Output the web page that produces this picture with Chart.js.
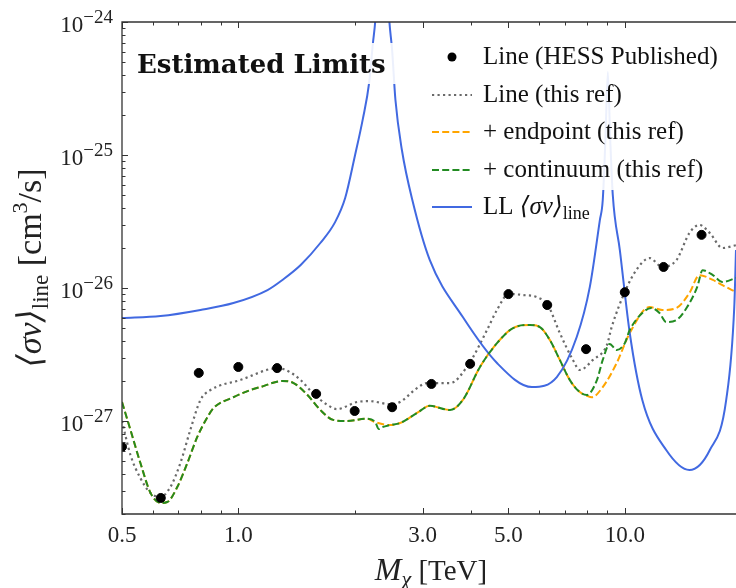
<!DOCTYPE html>
<html>
<head>
<meta charset="utf-8">
<script src="https://cdn.jsdelivr.net/npm/chart.js@4.4.1/dist/chart.umd.min.js"></script>
<style>
  body { margin: 0; background: #fff; }
  canvas { display: block; }
</style>
</head>
<body>
<canvas id="limitChart" width="736" height="588"></canvas>
<script>
// HESS published line limits
const hessMass = [0.5, 0.63, 0.79, 1.0, 1.26, 1.59, 2.0, 2.5, 3.16, 3.98, 5.0, 6.3, 7.94, 10.0, 12.6, 15.8];
const hessSigmaV = [6.4e-28, 2.64e-28, 2.30e-27, 2.55e-27, 2.50e-27, 1.60e-27, 1.19e-27, 1.27e-27, 1.90e-27, 2.69e-27, 9.0e-27, 7.45e-27, 3.47e-27, 9.3e-27, 1.44e-26, 2.51e-26];

// line only (this ref)
const lineMass = [0.5, 0.526, 0.558, 0.593, 0.629, 0.667, 0.708, 0.751, 0.798, 0.847, 1.01, 1.27, 1.36, 1.45, 1.56, 1.70, 1.80, 2.03, 2.19, 2.47, 2.62, 2.90, 3.08, 3.53, 3.95, 4.40, 4.67, 5.01, 5.45, 5.92, 6.32, 6.79, 7.34, 7.65, 8.27, 8.99, 9.25, 10.0, 10.7, 11.6, 12.5, 13.6, 14.7, 15.6, 16.6, 17.9, 19.4];
const lineSigmaV = [1.0e-27, 5.54e-28, 3.72e-28, 2.87e-28, 2.69e-28, 3.19e-28, 4.83e-28, 8.55e-28, 1.44e-27, 1.71e-27, 2.03e-27, 2.50e-27, 2.33e-27, 2.03e-27, 1.62e-27, 1.32e-27, 1.23e-27, 1.39e-27, 1.41e-27, 1.34e-27, 1.39e-27, 1.77e-27, 1.93e-27, 1.93e-27, 2.69e-27, 4.83e-27, 6.84e-27, 9.02e-27, 8.86e-27, 8.55e-27, 7.45e-27, 4.59e-27, 2.88e-27, 2.42e-27, 2.88e-27, 3.73e-27, 5.09e-27, 9.33e-27, 1.36e-26, 1.68e-26, 1.44e-26, 1.62e-26, 2.59e-26, 2.98e-26, 2.59e-26, 2.00e-26, 2.10e-26];

// + endpoint
const endpointMass = [0.5, 0.526, 0.558, 0.593, 0.629, 0.655, 0.695, 0.738, 0.783, 0.832, 0.862, 0.971, 1.074, 1.14, 1.30, 1.39, 1.51, 1.63, 1.76, 1.91, 2.15, 2.26, 2.47, 2.62, 2.90, 3.13, 3.53, 3.81, 4.22, 4.67, 5.14, 5.68, 6.03, 6.40, 6.79, 7.21, 7.65, 7.98, 8.22, 8.77, 9.53, 10.3, 11.6, 12.5, 13.6, 14.7, 15.6, 16.9, 17.9, 19.4];
const endpointSigmaV = [1.39e-27, 8.55e-28, 4.83e-28, 2.87e-28, 2.42e-28, 2.46e-28, 3.19e-28, 4.83e-28, 7.59e-28, 1.07e-27, 1.25e-27, 1.51e-27, 1.71e-27, 1.80e-27, 2.00e-27, 1.93e-27, 1.57e-27, 1.21e-27, 1.02e-27, 1.00e-27, 1.04e-27, 9.82e-28, 9.33e-28, 9.66e-28, 1.15e-27, 1.30e-27, 1.21e-27, 1.44e-27, 2.55e-27, 3.85e-27, 5.00e-27, 5.27e-27, 5.09e-27, 4.06e-27, 2.88e-27, 2.03e-27, 1.65e-27, 1.55e-27, 1.51e-27, 1.80e-27, 2.73e-27, 4.59e-27, 7.19e-27, 6.84e-27, 7.08e-27, 9.17e-27, 1.25e-26, 1.15e-26, 1.05e-26, 9.33e-27];

// + continuum
const continuumMass = [0.5, 0.526, 0.558, 0.593, 0.629, 0.655, 0.695, 0.738, 0.783, 0.832, 0.862, 0.971, 1.074, 1.14, 1.30, 1.39, 1.51, 1.63, 1.76, 1.91, 2.15, 2.26, 2.31, 2.36, 2.47, 2.62, 2.90, 3.13, 3.53, 3.81, 4.22, 4.67, 5.14, 5.68, 6.03, 6.40, 6.79, 7.21, 7.65, 7.98, 8.47, 8.77, 9.14, 9.53, 10.0, 10.3, 11.1, 11.7, 12.3, 12.8, 13.6, 14.5, 15.4, 15.9, 16.9, 17.9, 19.4];
const continuumSigmaV = [1.39e-27, 8.55e-28, 4.83e-28, 2.87e-28, 2.42e-28, 2.46e-28, 3.19e-28, 4.83e-28, 7.59e-28, 1.07e-27, 1.25e-27, 1.51e-27, 1.71e-27, 1.80e-27, 2.00e-27, 1.93e-27, 1.57e-27, 1.21e-27, 1.02e-27, 1.00e-27, 1.04e-27, 9.82e-28, 8.7e-28, 9.0e-28, 9.33e-28, 9.66e-28, 1.15e-27, 1.30e-27, 1.21e-27, 1.44e-27, 2.55e-27, 3.85e-27, 5.00e-27, 5.27e-27, 5.09e-27, 4.06e-27, 2.88e-27, 2.03e-27, 1.65e-27, 1.57e-27, 2.03e-27, 2.88e-27, 3.80e-27, 3.42e-27, 3.85e-27, 4.83e-27, 6.48e-27, 7.08e-27, 6.48e-27, 5.55e-27, 5.74e-27, 7.19e-27, 1.02e-26, 1.36e-26, 1.25e-26, 1.11e-26, 1.19e-26];

// LL <sigma v>_line
const llMass = [0.5, 0.629, 0.798, 0.971, 1.19, 1.30, 1.45, 1.63, 1.78, 1.89, 2.005, 2.10, 2.18, 2.23, 2.26, 2.36, 2.46, 2.50, 2.55, 2.65, 2.82, 3.13, 3.81, 4.67, 5.75, 6.67, 7.51, 8.12, 8.62, 8.77, 8.91, 9.04, 9.17, 9.31, 9.71, 10.3, 11.1, 12.8, 14.7, 16.6, 18.3, 19.2, 19.4];
const llSigmaV = [5.94e-27, 6.15e-27, 6.84e-27, 7.71e-27, 9.66e-27, 1.15e-26, 1.49e-26, 2.18e-26, 3.13e-26, 4.75e-26, 1.0e-25, 1.87e-25, 3.48e-25, 6.95e-25, 1.0e-24, 8e-24, 1.0e-24, 6.15e-25, 2.59e-25, 1.09e-25, 4.59e-26, 1.62e-26, 6.05e-27, 2.73e-27, 1.80e-27, 2.14e-27, 4.28e-27, 1.02e-26, 3.24e-26, 4.59e-26, 1.30e-25, 4.2e-25, 1.30e-25, 5.0e-26, 1.93e-26, 4.59e-27, 1.44e-27, 6.05e-28, 4.28e-28, 6.05e-28, 1.44e-27, 7.19e-27, 1.93e-26];

const seriesLabels = ['Line (HESS Published)', 'Line (this ref)', '+ endpoint (this ref)', '+ continuum (this ref)', 'LL ⟨σv⟩_line'];

const xTickValues = [0.5, 1.0, 3.0, 5.0, 10.0];
const xTickLabels = ['0.5', '1.0', '3.0', '5.0', '10.0'];
const xMinorTicks = [0.6, 0.7, 0.8, 0.9, 2, 4, 6, 7, 8, 9];
const yTickExponents = [-27, -26, -25, -24];

const SERIF = '"Liberation Serif", "DejaVu Serif", serif';

function toPoints(xs, ys){
    return xs.map((v, i) => ({x: v, y: ys[i]}));
}

function drawParts(ctx, parts, x, y, align){
    let w = 0;
    parts.forEach(p => {
        ctx.font = p.font;
        p.w = ctx.measureText(p.t).width;
        w += p.w;
    });
    let cx = x;
    if(align === 'center') cx = x - w / 2;
    if(align === 'right') cx = x - w;
    parts.forEach(p => {
        ctx.font = p.font;
        ctx.fillText(p.t, cx, y + (p.dy || 0));
        cx += p.w;
    });
}

function labelParts(label, size){
    const bits = label.split('_');
    const parts = [];
    const m = bits[0].match(/^(.*?)(⟨σv⟩)?$/);
    parts.push({t: m[1], font: size + 'px ' + SERIF});
    if(m[2]) parts.push({t: m[2], font: 'italic ' + size + 'px ' + SERIF});
    if(bits[1]) parts.push({t: bits[1], font: Math.round(size * 0.7) + 'px ' + SERIF, dy: 5});
    return parts;
}

const decorPlugin = {
    id: 'decor',
    afterDatasetsDraw(chart){
        const ctx = chart.ctx;
        const ds = chart.data.datasets;
        ctx.save();

        // annotation box
        ctx.fillStyle = 'rgba(255,255,255,0.9)';
        ctx.fillRect(131, 43, 266, 41);
        ctx.fillStyle = '#111';
        ctx.font = 'bold 26px "DejaVu Serif", serif';
        ctx.textBaseline = 'alphabetic';
        ctx.fillText('Estimated Limits', 137, 73);

        // legend
        ctx.fillStyle = 'rgba(255,255,255,0.9)';
        ctx.fillRect(425, 36, 300, 154);
        const rowY = [57, 95, 132, 170, 207];
        ds.forEach((d, i) => {
            const yy = rowY[i];
            ctx.save();
            if(d.showLine === false){
                ctx.fillStyle = d.backgroundColor;
                ctx.beginPath();
                ctx.arc(452, yy, 4.5, 0, Math.PI * 2);
                ctx.fill();
            } else {
                ctx.strokeStyle = d.borderColor;
                ctx.lineWidth = d.borderWidth;
                ctx.setLineDash(d.borderDash || []);
                ctx.beginPath();
                ctx.moveTo(432, yy);
                ctx.lineTo(472, yy);
                ctx.stroke();
            }
            ctx.restore();
            ctx.fillStyle = '#111';
            drawParts(ctx, labelParts(d.label, 25), 483, yy + 7, 'left');
        });
        ctx.restore();
    },
    afterDraw(chart){
        const {ctx, chartArea: a, scales: {x, y}} = chart;
        ctx.save();
        ctx.strokeStyle = '#333';
        ctx.lineWidth = 1.3;
        ctx.beginPath();
        ctx.moveTo(a.right + 2, a.top);
        ctx.lineTo(a.left, a.top);
        ctx.lineTo(a.left, a.bottom);
        ctx.lineTo(a.right + 2, a.bottom);
        ctx.stroke();

        ctx.lineWidth = 1;
        ctx.beginPath();
        xTickValues.forEach(v => {
            const px = Math.round(x.getPixelForValue(v)) + 0.5;
            ctx.moveTo(px, a.bottom); ctx.lineTo(px, a.bottom - 6);
            ctx.moveTo(px, a.top); ctx.lineTo(px, a.top + 6);
        });
        xMinorTicks.forEach(v => {
            const px = Math.round(x.getPixelForValue(v)) + 0.5;
            ctx.moveTo(px, a.bottom); ctx.lineTo(px, a.bottom - 3.5);
            ctx.moveTo(px, a.top); ctx.lineTo(px, a.top + 3.5);
        });
        yTickExponents.forEach(e => {
            const py = Math.round(y.getPixelForValue(Math.pow(10, e))) + 0.5;
            ctx.moveTo(a.left, py); ctx.lineTo(a.left + 6, py);
        });
        for(let e = -28; e <= -25; e++){
            for(let k = 2; k <= 9; k++){
                const v = k * Math.pow(10, e);
                if(v < y.min || v > y.max) continue;
                const py = Math.round(y.getPixelForValue(v)) + 0.5;
                ctx.moveTo(a.left, py); ctx.lineTo(a.left + 3.5, py);
            }
        }
        ctx.stroke();

        // tick labels
        ctx.fillStyle = '#222';
        ctx.textBaseline = 'alphabetic';
        xTickValues.forEach((v, i) => {
            ctx.font = '23px ' + SERIF;
            ctx.textAlign = 'center';
            ctx.fillText(xTickLabels[i], x.getPixelForValue(v), a.bottom + 28);
        });
        ctx.textAlign = 'left';
        yTickExponents.forEach(e => {
            const py = y.getPixelForValue(Math.pow(10, e));
            drawParts(ctx, [
                {t: '10', font: '23px ' + SERIF},
                {t: '\u2212' + Math.abs(e), font: '19px ' + SERIF, dy: -9}
            ], a.left - 9, py + 10, 'right');
        });

        // axis titles
        drawParts(ctx, [
            {t: 'M', font: 'italic 32px ' + SERIF},
            {t: 'χ', font: 'italic 22px ' + SERIF, dy: 6},
            {t: ' [TeV]', font: '29px ' + SERIF}
        ], 431, 580, 'center');

        ctx.save();
        ctx.translate(41, (a.top + a.bottom) / 2);
        ctx.rotate(-Math.PI / 2);
        drawParts(ctx, [
            {t: '⟨σv⟩', font: 'italic 34px ' + SERIF},
            {t: 'line', font: '23px ' + SERIF, dy: 7},
            {t: ' [cm', font: '34px ' + SERIF},
            {t: '3', font: '22px ' + SERIF, dy: -14},
            {t: '/s]', font: '34px ' + SERIF}
        ], 0, 0, 'center');
        ctx.restore();
        ctx.restore();
    }
};

new Chart(document.getElementById('limitChart'), {
    type: 'scatter',
    data: {
        datasets: [{
            label: seriesLabels[0],
            data: toPoints(hessMass, hessSigmaV),
            showLine: false,
            pointRadius: 4.5,
            pointBackgroundColor: '#000',
            backgroundColor: '#000',
            borderColor: '#000',
            order: 0
        }, {
            label: seriesLabels[1],
            data: toPoints(lineMass, lineSigmaV),
            showLine: true,
            borderColor: '#6a6a6a',
            borderWidth: 2.2,
            borderDash: [2.2, 3.3],
            pointRadius: 0,
            cubicInterpolationMode: 'monotone',
            order: 3
        }, {
            label: seriesLabels[2],
            data: toPoints(endpointMass, endpointSigmaV),
            showLine: true,
            borderColor: '#ffa500',
            borderWidth: 2,
            borderDash: [7, 3.2],
            pointRadius: 0,
            cubicInterpolationMode: 'monotone',
            order: 2
        }, {
            label: seriesLabels[3],
            data: toPoints(continuumMass, continuumSigmaV),
            showLine: true,
            borderColor: '#228b22',
            borderWidth: 2,
            borderDash: [7, 3.2],
            pointRadius: 0,
            cubicInterpolationMode: 'monotone',
            order: 1
        }, {
            label: seriesLabels[4],
            data: toPoints(llMass, llSigmaV),
            showLine: true,
            borderColor: '#4169e1',
            borderWidth: 2,
            pointRadius: 0,
            cubicInterpolationMode: 'monotone',
            order: 1
        }]
    },
    options: {
        responsive: false,
        animation: false,
        layout: {
            autoPadding: false,
            padding: {left: 122, top: 22, right: 0, bottom: 74}
        },
        plugins: {
            legend: {display: false},
            tooltip: {enabled: false}
        },
        scales: {
            x: {
                type: 'logarithmic',
                min: 0.5,
                max: 19.4,
                display: false
            },
            y: {
                type: 'logarithmic',
                min: 2e-28,
                max: 1e-24,
                display: false
            }
        }
    },
    plugins: [decorPlugin]
});
</script>
</body>
</html>
